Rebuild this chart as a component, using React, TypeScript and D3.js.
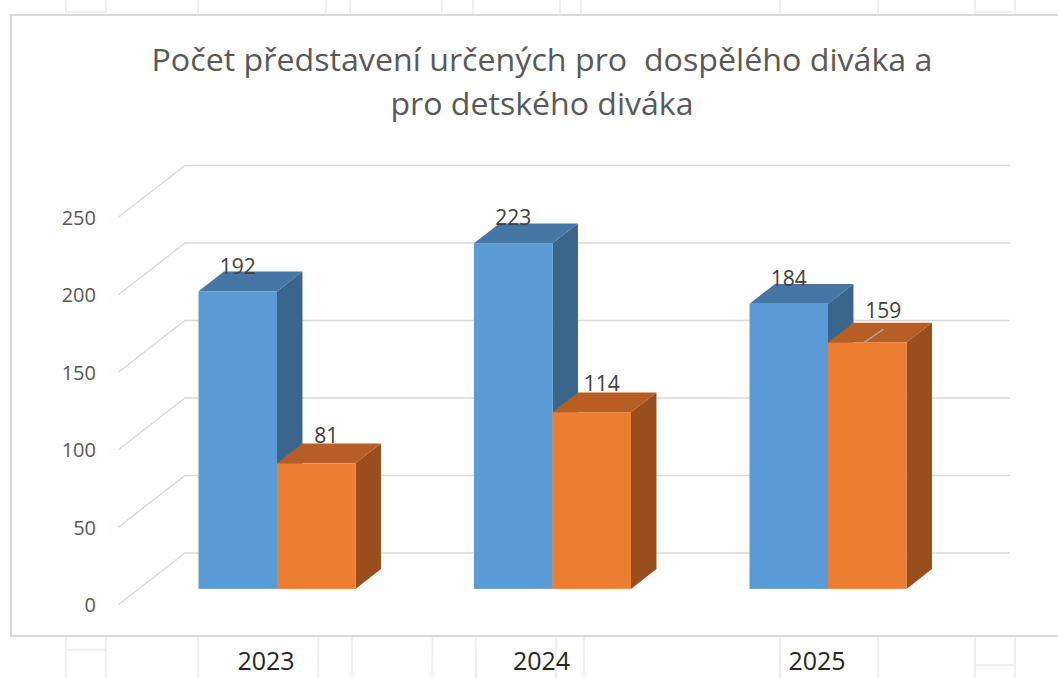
import React from "react";
import * as d3 from "d3";

const years = ["2023", "2024", "2025"];
const seriesNames = ["dospělý divák", "dětský divák"];
const adultValues = [192, 223, 184];
const childValues = [81, 114, 159];
const yTicks = [0, 50, 100, 150, 200, 250];
const titleLines = ["Počet představení určených pro  dospělého diváka a", "pro detského diváka"];

const W = 1058;
const H = 678;
const FONT = "'Open Sans', 'Noto Sans', sans-serif";

// 3D projection parameters
const DX = 67; // depth shift in x (front -> back wall)
const DY = 52; // depth shift in y
const Z0 = 0.31; // bar front depth
const Z1 = 0.69; // bar back depth
const BAR_W = 78.5;

const yScale = d3.scaleLinear().domain([0, 250]).range([605, 217.5]);
const xFront = 118; // front of axis (z=0)
const xCenter = d3.scalePoint<string>().domain(years).range([277, 828]);

const colors = [
  { front: "#5B9BD5", top: "#4576A4", side: "#3A668C" },
  { front: "#ED7D31", top: "#B65E24", side: "#9A4E1E" },
];

export default function App() {
  const series = [adultValues, childValues];
  const ddx = (Z1 - Z0) * DX;
  const ddy = (Z1 - Z0) * DY;

  const bars: React.ReactNode[] = [];
  const labels: React.ReactNode[] = [];
  years.forEach((yr, ci) => {
    const c = xCenter(yr)!;
    series.forEach((vals, si) => {
      const v = vals[ci];
      const x = c - BAR_W + si * BAR_W;
      const yt = yScale(v) - Z0 * DY;
      const yb = yScale(0) - Z0 * DY;
      const col = colors[si];
      const line = d3.line();
      const side = line([
        [x + BAR_W, yt],
        [x + BAR_W + ddx, yt - ddy],
        [x + BAR_W + ddx, yb - ddy],
        [x + BAR_W, yb],
      ]) + "Z";
      const top = line([
        [x, yt],
        [x + BAR_W, yt],
        [x + BAR_W + ddx, yt - ddy],
        [x + ddx, yt - ddy],
      ]) + "Z";
      bars.push(
        <g key={`b-${ci}-${si}`}>
          <path d={side} fill={col.side} />
          <path d={top} fill={col.top} />
          <rect x={x} y={yt} width={BAR_W} height={yb - yt} fill={col.front} />
        </g>
      );
      const cx = x + BAR_W / 2;
      const backTop = yt - ddy;
      const leader = si === 1 && v > 150;
      const lx = cx + (si === 0 ? 0 : leader ? 16 : 10);
      const ly = si === 0 ? backTop + 2 : leader ? backTop - 5 : backTop - 1;
      if (leader) {
        labels.push(
          <line key={`ll-${ci}`} x1={cx - 3} y1={yt} x2={cx + 16} y2={yt - 13} stroke="#A6A6A6" strokeWidth={1.5} />
        );
      }
      labels.push(
        <text key={`l-${ci}-${si}`} x={lx} y={ly} textAnchor="middle" fontSize={21} fill="#404040" fontFamily={FONT}>
          {v}
        </text>
      );
    });
  });

  const wm = "#EFEFEF";

  return (
    <svg width={W} height={H} style={{ position: "absolute", left: 0, top: 0, background: "#fff" }}>
      {/* faint watermark behind chart */}
      <g stroke={wm} strokeWidth={2} fill="none">
        <line x1={66} y1={0} x2={66} y2={678} />
        <line x1={106} y1={0} x2={106} y2={678} />
        <line x1={66} y1={650} x2={106} y2={650} />
        <line x1={66} y1={12} x2={106} y2={12} />
        <line x1={198} y1={0} x2={198} y2={678} />
        <line x1={326} y1={0} x2={318} y2={678} />
        <line x1={350} y1={0} x2={352} y2={678} />
        <line x1={442} y1={0} x2={432} y2={678} />
        <line x1={473} y1={0} x2={476} y2={678} />
        <line x1={560} y1={0} x2={556} y2={678} />
        <line x1={581} y1={0} x2={584} y2={678} />
        <line x1={780} y1={0} x2={780} y2={678} />
        <line x1={878} y1={0} x2={878} y2={678} />
        <line x1={975} y1={0} x2={975} y2={678} />
        <line x1={1015} y1={0} x2={1015} y2={678} />
        <line x1={975} y1={665} x2={1015} y2={665} />
        <line x1={975} y1={12} x2={1015} y2={12} />
      </g>
      {/* chart box */}
      <rect x={11} y={15} width={1060} height={621} fill="#fff" stroke="#D9D9D9" strokeWidth={2} />

      {/* title */}
      {titleLines.map((t, i) => (
        <text
          key={`t-${i}`}
          x={542}
          y={71 + i * 44}
          textAnchor="middle"
          fontSize={31}
          fill="#595959"
          fontFamily={FONT}
          textLength={i === 0 ? 781 : 303}
          lengthAdjust="spacingAndGlyphs"
          style={{ whiteSpace: "pre" }}
        >
          {t}
        </text>
      ))}

      {/* gridlines on back wall and left side wall */}
      <g stroke="#D9D9D9" strokeWidth={1.5} fill="none">
        {yTicks.map((t) => (
          <path
            key={`g-${t}`}
            d={
              d3.line()([
                [xFront, yScale(t)],
                [xFront + DX, yScale(t) - DY],
                [1010, yScale(t) - DY],
              ]) || ""
            }
          />
        ))}
      </g>

      {/* y axis labels */}
      {yTicks.map((t) => (
        <text key={`y-${t}`} x={96} y={yScale(t) + 7} textAnchor="end" fontSize={20} fill="#595959" fontFamily={FONT}>
          {t}
        </text>
      ))}

      {bars}
      {labels}

      {/* category labels */}
      {years.map((yr) => (
        <text key={`x-${yr}`} x={xCenter(yr)! - 11} y={670} textAnchor="middle" fontSize={25} fill="#262626" fontFamily={FONT}>
          {yr}
        </text>
      ))}
      <desc>{seriesNames.join(", ")}</desc>
    </svg>
  );
}
